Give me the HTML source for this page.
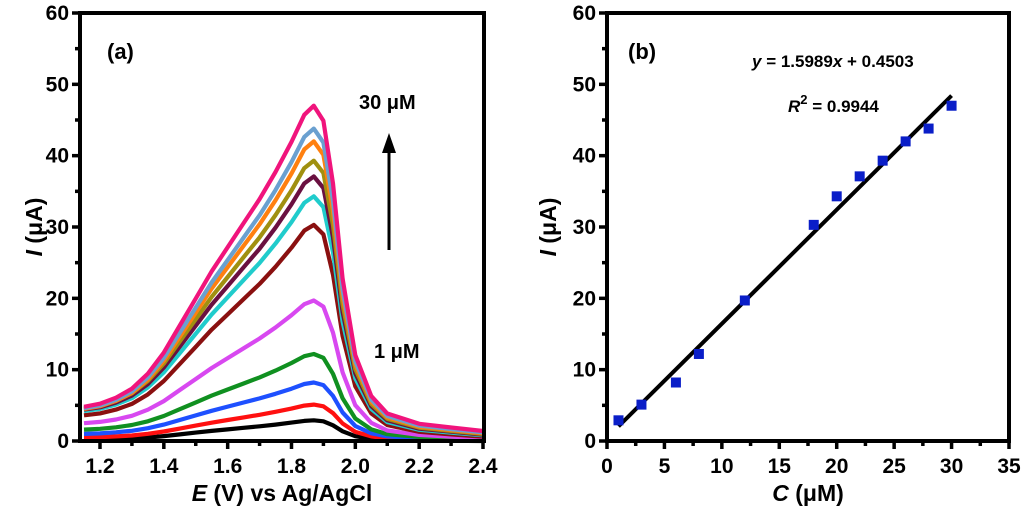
<!DOCTYPE html>
<html><head><meta charset="utf-8"><style>
html,body{margin:0;padding:0;background:#fff;}
svg text{font-family:"Liberation Sans",Arial,sans-serif;font-weight:bold;fill:#000;}
</style></head><body>
<svg id="fig" width="1024" height="518" viewBox="0 0 1024 518" xmlns="http://www.w3.org/2000/svg">
<g id="pa"></g>
<g id="pb"></g>
</svg>
<script>
// ---- Panel (a) data ----
const concLabels = ["1","3","6","8","12","18","20","22","24","26","28","30"];
const curveColors = ["#000000","#ff1010","#1e50ff","#109020","#d848f0","#8a1010","#20cccc","#6a1040","#a09010","#ff8010","#6aa0d0","#f0147c"];
const peakCurrents = [2.9,5.1,8.2,12.2,19.7,30.3,34.3,37.1,39.3,42.0,43.8,47.0];
const startCurrents = [0.2,0.5,1.0,1.6,2.5,3.6,4.2,4.4,4.6,4.5,4.6,4.8];
const tailCurrents = [0.0,0.1,0.2,0.3,0.4,0.6,0.8,0.9,1.0,1.1,1.2,1.4];
const potentials = [1.15,1.2,1.25,1.3,1.35,1.4,1.45,1.5,1.55,1.6,1.65,1.7,1.75,1.8,1.84,1.87,1.9,1.93,1.96,2.0,2.05,2.1,2.2,2.3,2.4];
const riseShape = [0,0.01,0.03,0.06,0.11,0.18,0.27,0.36,0.45,0.53,0.61,0.69,0.78,0.88,0.97,1.0,0.95,0.75,0.45,0.22,0.1,0.05,0.02,0.01,0];
const tailShape = [0,0,0,0,0,0,0,0,0,0,0,0,0,0,0,0,0,0.1,0.3,0.6,0.8,0.9,0.95,0.98,1];
const xTicksA = [1.2,1.4,1.6,1.8,2.0,2.2,2.4];
const yTicks = [0,10,20,30,40,50,60];
// ---- Panel (b) data ----
const concB = [1,3,6,8,12,18,20,22,24,26,28,30];
const currentB = [2.9,5.1,8.2,12.2,19.7,30.3,34.3,37.1,39.3,42.0,43.8,47.0];
const fitSlope = 1.5989, fitIntercept = 0.4503;
const xTicksB = [0,5,10,15,20,25,30,35];

const NS="http://www.w3.org/2000/svg";
function mk(tag,attrs,parent,text){const e=document.createElementNS(NS,tag);for(const k in attrs)e.setAttribute(k,attrs[k]);if(text!==undefined)e.textContent=text;parent.appendChild(e);return e;}

const yTop=13,yBot=441;
const yS=v=>yBot-(v/60)*(yBot-yTop);
// panel a
const ax0=80,ax1=484;
const xA=e=>100+(e-1.2)/1.2*(483-100);
const pa=document.getElementById('pa');
for(let i=0;i<peakCurrents.length;i++){
  let d="";
  potentials.forEach((e,j)=>{
    const b=startCurrents[i]+(tailCurrents[i]-startCurrents[i])*tailShape[j];
    const v=b+(peakCurrents[i]-startCurrents[i])*riseShape[j];
    d+=(j?"L":"M")+xA(e).toFixed(1)+","+yS(Math.max(v,0)).toFixed(1);
  });
  const p=mk('path',{d:d,fill:'none',stroke:curveColors[i],'stroke-width':4.2,'stroke-linejoin':'round'},pa);
  
  
}
function frame(g,x0,x1,xticks,xf,minorX,label){
  const r=mk('rect',{x:x0,y:yTop,width:x1-x0,height:yBot-yTop,fill:'none',stroke:'#000','stroke-width':4},g);
  
  
  xticks.forEach(t=>{const x=xf(t);mk('line',{x1:x,x2:x,y1:yBot,y2:yBot+8,stroke:'#000','stroke-width':3.5},g);
    const tx=mk('text',{x:x,y:yBot+32,'text-anchor':'middle','font-size':21},g,t.toFixed(label==='a'?1:0));
    
    });
  minorX.forEach(t=>{const x=xf(t);mk('line',{x1:x,x2:x,y1:yBot,y2:yBot+5,stroke:'#000','stroke-width':3.5},g);});
  yTicks.forEach(t=>{const y=yS(t);mk('line',{x1:x0-8,x2:x0,y1:y,y2:y,stroke:'#000','stroke-width':3.5},g);
    const tx=mk('text',{x:x0-11,y:y+7,'text-anchor':'end','font-size':21},g,String(t));
    
    });
  [5,15,25,35,45,55].forEach(t=>{const y=yS(t);mk('line',{x1:x0-5,x2:x0,y1:y,y2:y,stroke:'#000','stroke-width':3.5},g);});
}
frame(pa,ax0,ax1,xTicksA,xA,[1.3,1.5,1.7,1.9,2.1,2.3],'a');
// panel b
const bx0=607,bx1=1009;
const xB=c=>bx0+c/35*(bx1-bx0);
const pb=document.getElementById('pb');
frame(pb,bx0,bx1,xTicksB,xB,[2.5,7.5,12.5,17.5,22.5,27.5,32.5],'b');
const fl=mk('line',{x1:xB(concB[0]),y1:yS(fitSlope*concB[0]+fitIntercept),x2:xB(concB[concB.length-1]),y2:yS(fitSlope*concB[concB.length-1]+fitIntercept),stroke:'#000','stroke-width':4},pb);


concB.forEach((c,i)=>{const s=mk('rect',{x:xB(c)-5,y:yS(currentB[i])-5,width:10,height:10,fill:'#0a1ec8'},pb);
  
  });
</script>
<svg width="1024" height="518" style="position:absolute;left:0;top:0" xmlns="http://www.w3.org/2000/svg">
<text x="107" y="59" font-size="22">(a)</text>
<text x="359" y="109" font-size="20">30 μM</text>
<line x1="389" y1="250" x2="389" y2="150" stroke="#000" stroke-width="3"/>
<polygon points="382,153 396,153 389,133" fill="#000"/>
<text x="374" y="358" font-size="20">1 μM</text>
<text x="282" y="501" font-size="23" text-anchor="middle"><tspan font-style="italic">E</tspan> (V) vs Ag/AgCl</text>
<text transform="translate(42,227) rotate(-90)" font-size="23" text-anchor="middle"><tspan font-style="italic">I</tspan> (μA)</text>
<text x="628" y="59" font-size="22">(b)</text>
<text x="752" y="67" font-size="17"><tspan font-style="italic">y</tspan> = 1.5989<tspan font-style="italic">x</tspan> + 0.4503</text>
<text x="788" y="112" font-size="17"><tspan font-style="italic">R</tspan><tspan dy="-8" font-size="13">2</tspan><tspan dy="8"> = 0.9944</tspan></text>
<text x="808" y="501" font-size="23" text-anchor="middle"><tspan font-style="italic">C</tspan> (μM)</text>
<text transform="translate(556,227) rotate(-90)" font-size="23" text-anchor="middle"><tspan font-style="italic">I</tspan> (μA)</text>
</svg>
</body></html>
